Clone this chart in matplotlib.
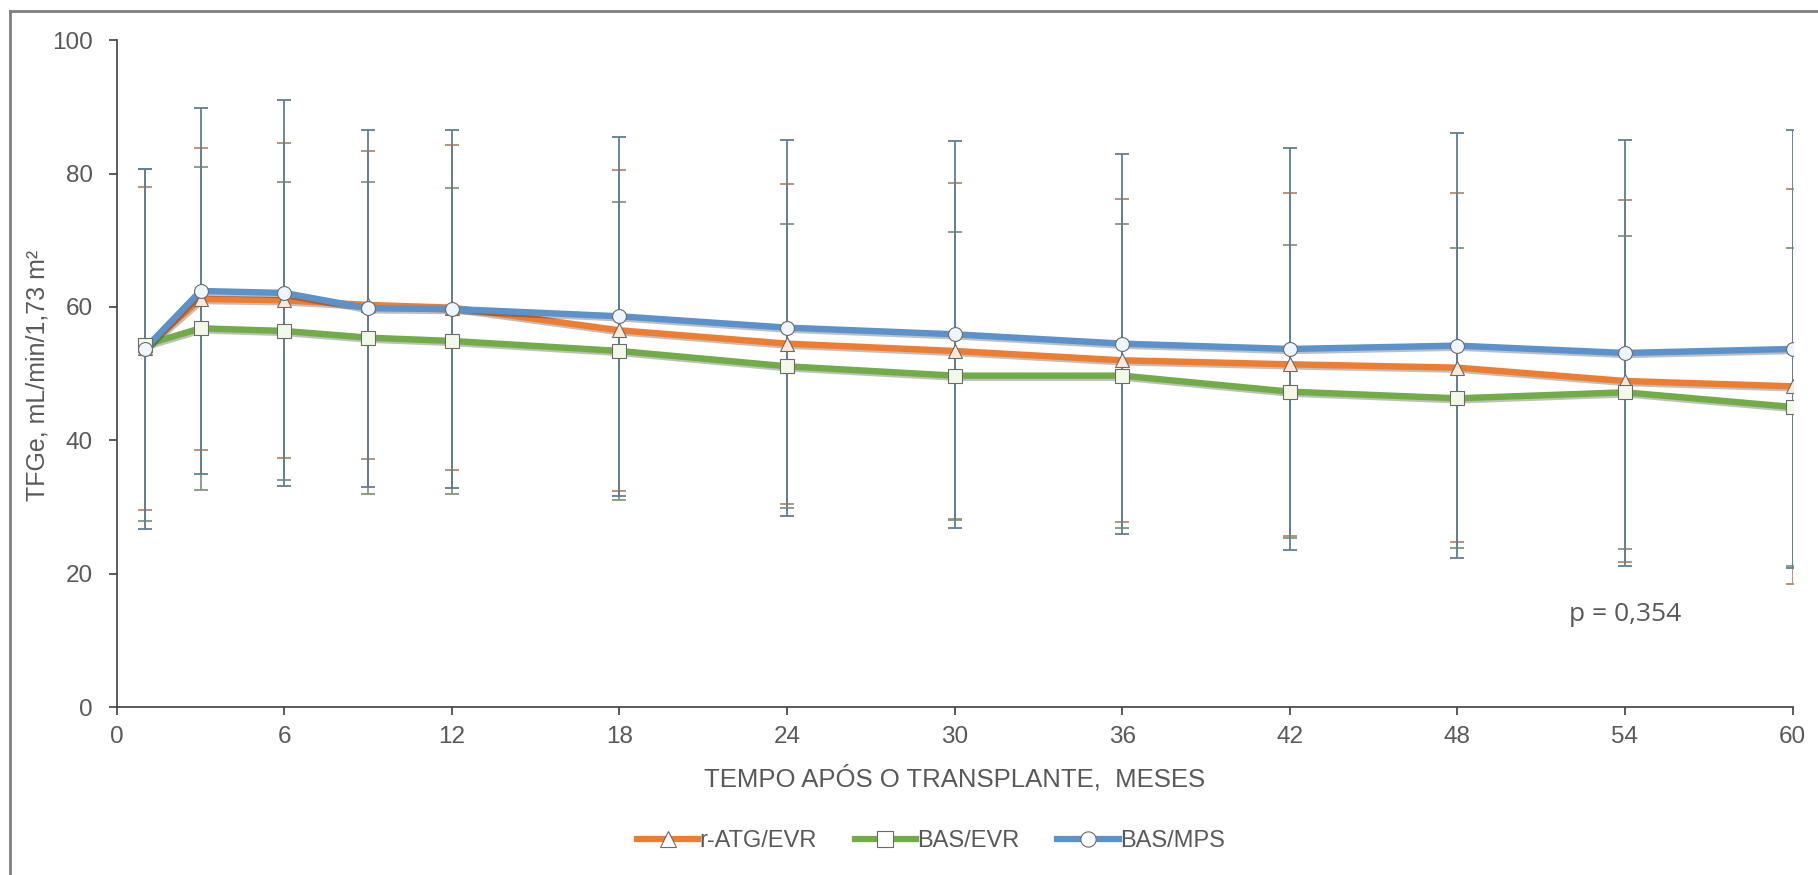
import matplotlib
matplotlib.use("Agg")
import matplotlib.pyplot as plt
import matplotlib.patheffects as pe
from matplotlib.lines import Line2D

# Months after transplant
months = [1, 3, 6, 9, 12, 18, 24, 30, 36, 42, 48, 54, 60]

# eGFR means and standard deviations per group
ratg_evr_mean = [53.8, 61.2, 61.0, 60.3, 59.9, 56.5, 54.5, 53.4, 52.0, 51.4, 50.9, 48.9, 48.1]
ratg_evr_sd = [24.2, 22.6, 23.6, 23.1, 24.4, 24.1, 24.0, 25.2, 24.2, 25.7, 26.2, 27.1, 29.6]

bas_evr_mean = [54.3, 56.8, 56.4, 55.4, 54.9, 53.4, 51.1, 49.7, 49.7, 47.3, 46.3, 47.2, 45.0]
bas_evr_sd = [26.4, 24.2, 22.4, 23.4, 23.0, 22.3, 21.3, 21.6, 22.8, 22.0, 22.5, 23.5, 23.8]

bas_mps_mean = [53.7, 62.4, 62.1, 59.8, 59.7, 58.6, 56.9, 55.9, 54.5, 53.7, 54.2, 53.1, 53.7]
bas_mps_sd = [27.0, 27.5, 28.9, 26.8, 26.9, 26.9, 28.2, 29.0, 28.5, 30.1, 31.9, 32.0, 32.8]

group_labels = ["r-ATG/EVR", "BAS/EVR", "BAS/MPS"]
x_ticks = [0, 6, 12, 18, 24, 30, 36, 42, 48, 54, 60]
y_ticks = [0, 20, 40, 60, 80, 100]
p_text = "p = 0,354"

FONT = ["Liberation Sans", "DejaVu Sans"]
GRAY = "#595959"

fig = plt.figure(figsize=(18.18, 8.75), dpi=100)
ax = fig.add_axes([0.0642, 0.192, 0.9218, 0.762])

styles = [
    dict(mean=ratg_evr_mean, sd=ratg_evr_sd, color="#ED7D31", ecolor="#b48a70",
         marker="^", mfc="#fde9d9", ms=10),
    dict(mean=bas_evr_mean, sd=bas_evr_sd, color="#70AD47", ecolor="#7f9b7a",
         marker="s", mfc="#f3f9e8", ms=9.5),
    dict(mean=bas_mps_mean, sd=bas_mps_sd, color="#5B92CC", ecolor="#5f7f93",
         marker="o", mfc="#eef5fc", ms=10),
]

# Error bars first (blue drawn last so its stems sit on top)
for st in styles:
    ax.errorbar(months, st["mean"], yerr=st["sd"], fmt="none",
                ecolor=st["ecolor"], elinewidth=1.3, capsize=5, capthick=1.3,
                zorder=2)

shadow = [pe.SimpleLineShadow(offset=(0.8, -1.5), shadow_color="black", alpha=0.25),
          pe.Normal()]
for st in styles:
    ax.plot(months, st["mean"], color=st["color"], lw=4.6, zorder=3,
            path_effects=shadow, solid_capstyle="round")
for st in styles:
    ax.plot(months, st["mean"], linestyle="none", marker=st["marker"],
            ms=st["ms"], mfc=st["mfc"], mec="#6b6b6b", mew=0.8, zorder=4)

ax.set_xlim(0, 60)
ax.set_ylim(0, 100)
ax.set_xticks(x_ticks)
ax.set_yticks(y_ticks)
for s in ["top", "right"]:
    ax.spines[s].set_visible(False)
for s in ["left", "bottom"]:
    ax.spines[s].set_color("#404040")
    ax.spines[s].set_linewidth(1.2)
ax.tick_params(axis="both", direction="out", length=6, width=1.2, color="#404040",
               labelcolor=GRAY, labelsize=17.5)
ax.tick_params(axis="y", pad=11)
ax.tick_params(axis="x", pad=8)
for lbl in ax.get_xticklabels() + ax.get_yticklabels():
    lbl.set_family(FONT)

ax.set_xlabel("TEMPO APÓS O TRANSPLANTE,  MESES", fontsize=18.5, color=GRAY,
              family=FONT, labelpad=12)
fig.text(38 / 1818, 1 - 375 / 875, "TFGe, mL/min/1,73 m²", rotation=90,
         ha="center", va="center", fontsize=18, color=GRAY, family=FONT)

ax.text(54, 13.9, p_text, ha="center", va="center", fontsize=19, color=GRAY,
        family=["Open Sans", "DejaVu Sans"])

handles = [Line2D([], [], color=st["color"], lw=4.5, marker=st["marker"], ms=11,
                  mfc="white", mec="#6b6b6b", mew=0.8) for st in styles]
leg = fig.legend(handles, group_labels, loc="center", bbox_to_anchor=(0.512, 1 - 841 / 875),
                 ncol=3, frameon=False, handlelength=2.6,
                 handletextpad=0.05, columnspacing=1.6,
                 prop={"family": FONT, "size": 17})
for t in leg.get_texts():
    t.set_color(GRAY)

# Outer frame (top and left edges)
fig.add_artist(Line2D([10 / 1818, 10 / 1818], [0, 1 - 11 / 875],
                      transform=fig.transFigure, color="#7f7f7f", lw=2))
fig.add_artist(Line2D([10 / 1818, 1], [1 - 11 / 875, 1 - 11 / 875],
                      transform=fig.transFigure, color="#7f7f7f", lw=2))

fig.savefig("out.png", dpi=100)
